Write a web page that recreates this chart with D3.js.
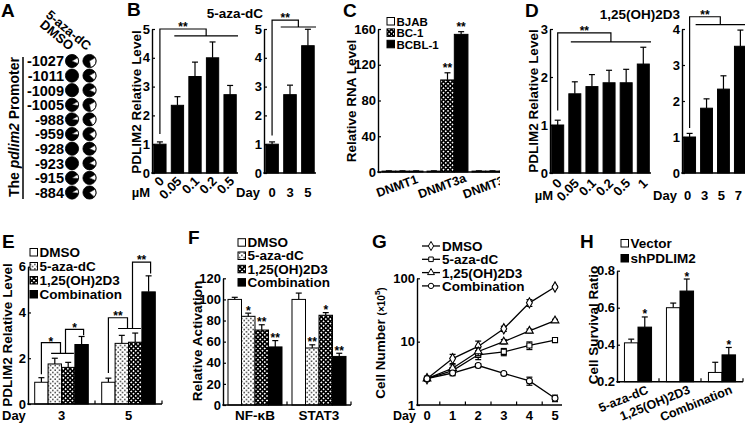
<!DOCTYPE html>
<html><head><meta charset="utf-8">
<script src="https://cdnjs.cloudflare.com/ajax/libs/d3/7.8.5/d3.min.js"></script>
<style>body{margin:0;background:#fff}svg{display:block}</style>
</head><body><svg id="chart" width="745" height="424"></svg>
<script>
// ---------------- DATA ----------------
const promoterSites = ["-1027","-1011","-1009","-1005","-988","-959","-928","-923","-915","-884"];
const promoterColumns = ["DMSO","5-aza-dC"];
const methylDMSO = [0.85,1,1,0.9,0.9,0.9,1,1,0.9,0.9];
const methylAza  = [0.7,0.8,0.85,0.7,0.75,0.8,0.85,0.85,0.85,0.8];

const bDoses = ["0","0.05","0.1","0.2","0.5"];
const bDoseVals = [1.0,2.35,3.35,4.0,2.72];
const bDoseErr  = [0.08,0.3,0.5,0.55,0.32];
const bDays = ["0","3","5"];
const bDayVals = [1.0,2.72,4.42];
const bDayErr  = [0.08,0.33,0.57];
const bTicks = [0,1,2,3,4,5];

const cGenes = ["DNMT1","DNMT3a","DNMT3b"];
const cLines = ["BJAB","BC-1","BCBL-1"];
const cBJAB  = [1,1,1];
const cBC1   = [1,103,1];
const cBCBL1 = [1,154,1];
const cErrBJAB = [0.3,0.3,0.3];
const cErrBC1  = [0.3,8,0.3];
const cErrBCBL1= [0.3,3,0.3];
const cTicks = [0,40,80,120,160];

const dDoses = ["0","0.05","0.1","0.2","0.5","1"];
const dDoseVals = [1.0,1.65,1.8,1.88,1.88,2.27];
const dDoseErr  = [0.1,0.25,0.25,0.26,0.28,0.35];
const dDays = ["0","3","5","7"];
const dDayVals = [1.0,1.8,2.33,3.52];
const dDayErr  = [0.1,0.26,0.37,0.45];

const treatments = ["DMSO","5-aza-dC","1,25(OH)2D3","Combination"];
const eDays = ["3","5"];
const eDay3 = [0.95,1.75,1.6,2.6];
const eDay5 = [0.95,2.65,2.7,4.9];
const eErr3 = [0.2,0.25,0.22,0.35];
const eErr5 = [0.18,0.35,0.4,0.7];
const eTicks = [0,2,4,6];

const fTargets = ["NF-κB","STAT3"];
const fNFkB  = [100,84,71,55];
const fSTAT3 = [100,54,85,46];
const fErrNFkB  = [2,3,5,6];
const fErrSTAT3 = [6,3,2.5,3];
const fStarsNFkB  = ["","*","**","**"];
const fStarsSTAT3 = ["","**","*","**"];
const fTicks = [0,20,40,60,80,100,120];

const gDays = [0,1,2,3,4,5];
const gDMSO = [2.6,5.4,8.4,16,41,73];
const gAza  = [2.6,3.5,6.2,6.9,8.7,10.6];
const gD3   = [2.6,3.8,7.0,10,14.8,21.5];
const gComb = [2.6,3.2,4.2,3.15,2.4,1.28];
const gErrDMSO = [0.1,0.9,1.8,1.5,5,3];
const gErrAza  = [0.1,0.4,1.0,0.9,1.2,0.5];
const gErrD3   = [0.1,0.5,1.0,0.8,1.0,1.0];
const gErrComb = [0.1,0.3,0.3,0.15,0.35,0.15];
const gTicks = [1,10,100];

const hGroups = ["5-aza-dC","1,25(OH)2D3","Combination"];
const hSeries = ["Vector","shPDLIM2"];
const hVector = [0.41,0.6,0.25];
const hSh     = [0.495,0.69,0.345];
const hErrVector = [0.02,0.025,0.055];
const hErrSh     = [0.055,0.065,0.04];
const hTicks = [0.2,0.4,0.6,0.8];

// ---------------- HELPERS ----------------
const FONT = "'Liberation Sans', Arial, Helvetica, sans-serif";
const svg = d3.select("#chart");
const defs = svg.append("defs");
const pd = defs.append("pattern").attr("id","dots").attr("width",4.5).attr("height",4.5).attr("patternUnits","userSpaceOnUse");
pd.append("rect").attr("width",4.5).attr("height",4.5).attr("fill","#fff");
pd.append("rect").attr("x",0.5).attr("y",0.5).attr("width",1.3).attr("height",1.3).attr("fill","#000");
pd.append("rect").attr("x",2.75).attr("y",2.75).attr("width",1.3).attr("height",1.3).attr("fill","#000");
const pc = defs.append("pattern").attr("id","chk").attr("width",3.2).attr("height",3.2).attr("patternUnits","userSpaceOnUse").attr("patternTransform","rotate(45)");
pc.append("rect").attr("width",3.2).attr("height",3.2).attr("fill","#000");
pc.append("rect").attr("x",0.8).attr("y",0.8).attr("width",1.6).attr("height",1.6).attr("fill","#fff");
defs.append("clipPath").attr("id","clipC").append("rect").attr("x",330).attr("y",0).attr("width",170).attr("height",210);

const treatFill = ["#fff","url(#dots)","url(#chk)","#000"];
const cFill = ["#fff","url(#chk)","#000"];
const hFill = ["#fff","#000"];

function txt(x,y,s,size,opt={}){
  const t=(opt.parent||svg).append("text").attr("x",x).attr("y",y).text(s)
    .attr("font-size",size).attr("font-weight","bold").attr("font-family",FONT).attr("fill","#000");
  if(opt.anchor) t.attr("text-anchor",opt.anchor);
  if(opt.rotate!=null) t.attr("transform",`rotate(${opt.rotate},${x},${y})`);
  return t;
}
function yAxis(scale,x,ticks,fmt){
  const g=svg.append("g").attr("transform",`translate(${x},0)`)
    .call(d3.axisLeft(scale).tickValues(ticks).tickSizeInner(-3).tickSizeOuter(0).tickPadding(2).tickFormat(fmt||(d=>d)));
  g.attr("font-family",FONT).attr("font-size",13).attr("font-weight","bold");
  g.select(".domain").attr("stroke","#000").attr("stroke-width",1.4);
  g.selectAll(".tick line").attr("stroke","#000").attr("stroke-width",1.2);
  g.selectAll(".tick text").attr("fill","#000");
  return g;
}
function hAxis(x0,x1,y,ticks,parent){
  const p=parent||svg;
  p.append("line").attr("x1",x0-0.7).attr("x2",x1).attr("y1",y).attr("y2",y).attr("stroke","#000").attr("stroke-width",1.4);
  ticks.forEach(t=>p.append("line").attr("x1",t).attr("x2",t).attr("y1",y).attr("y2",y-3.5).attr("stroke","#000").attr("stroke-width",1.2));
}
function errBar(cx,y0,y1,half,parent){
  const p=parent||svg;
  p.append("line").attr("x1",cx).attr("x2",cx).attr("y1",y0).attr("y2",y1).attr("stroke","#000").attr("stroke-width",1.2);
  p.append("line").attr("x1",cx-half).attr("x2",cx+half).attr("y1",y1).attr("y2",y1).attr("stroke","#000").attr("stroke-width",1.2);
}
function bars(xs,ys,keys,vals,errs,fill,dx=0,parent){
  const p=parent||svg, w=xs.bandwidth(), base=ys(ys.domain()[0]);
  keys.forEach((k,i)=>{
    const x=dx+xs(k), v=vals[i];
    errBar(x+w/2,ys(v),ys(v+errs[i]),3,p);
    p.append("rect").attr("x",x).attr("y",ys(v)).attr("width",w).attr("height",base-ys(v))
      .attr("fill",typeof fill==="function"?fill(i):fill).attr("stroke","#000").attr("stroke-width",1);
  });
}
function path(d){svg.append("path").attr("d",d).attr("fill","none").attr("stroke","#000").attr("stroke-width",1.2);}
function legendBox(x,yc,fill,label,size){
  svg.append("rect").attr("x",x).attr("y",yc-4).attr("width",7.5).attr("height",7.5).attr("fill",fill).attr("stroke","#000").attr("stroke-width",1);
  txt(x+9.5,yc+4.3,label,size);
}
const LET=19, AX=13.5;

// ---------------- PANEL A ----------------
txt(1,17,"A",LET);
const yA=d3.scalePoint().domain(promoterSites).range([61,192.5]);
const xA=d3.scalePoint().domain(promoterColumns).range([72,89.5]);
const RA=6.6;
const arcA=d3.arc().innerRadius(0).outerRadius(RA);
promoterSites.forEach((s,i)=>{
  txt(64,yA(s)+5.3,s,14.5,{anchor:"end"});
  [methylDMSO[i],methylAza[i]].forEach((f,j)=>{
    const g=svg.append("g").attr("transform",`translate(${xA(promoterColumns[j])},${yA(s)})`);
    const off=Math.PI/3, wEnd=off+(1-f)*2*Math.PI;
    g.append("path").attr("d",arcA({startAngle:wEnd,endAngle:off+2*Math.PI})).attr("fill","#000");
    if(f<1) g.append("path").attr("d",arcA({startAngle:off,endAngle:wEnd})).attr("fill","#fff").attr("stroke","#000").attr("stroke-width",0.6);
    g.append("circle").attr("r",RA).attr("fill","none").attr("stroke","#000").attr("stroke-width",0.8);
  });
});
promoterColumns.forEach(c=>txt(xA(c)-3,51,c,13,{anchor:"end",rotate:40}));
svg.append("line").attr("x1",23).attr("x2",23).attr("y1",57).attr("y2",199).attr("stroke","#000").attr("stroke-width",1.5);
{
  const t=txt(19,127,"The ",14,{anchor:"middle",rotate:-90});
  t.append("tspan").attr("font-style","italic").text("pdlim2");
  t.append("tspan").text(" Promoter");
}

// ---------------- PANEL B ----------------
txt(127,16,"B",LET);
const yB=d3.scaleLinear().domain([0,5]).range([173,29]);
const xB1=d3.scaleBand().domain(bDoses).range([152,238]).paddingInner(0.3).paddingOuter(0.1);
const xB2=d3.scaleBand().domain(bDays).range([264,316]).paddingInner(0.3).paddingOuter(0.1);
bars(xB1,yB,bDoses,bDoseVals,bDoseErr,"#000");
bars(xB2,yB,bDays,bDayVals,bDayErr,"#000");
yAxis(yB,152,bTicks); hAxis(152,238,173,[]);
yAxis(yB,264,bTicks); hAxis(264,316,173,[]);
txt(141,102,"PDLIM2 Relative Level",AX,{anchor:"middle",rotate:-90});
bDoses.forEach(d=>txt(xB1(d)+xB1.bandwidth()/2+5,182,d,13,{anchor:"end",rotate:-45}));
txt(141,197,"µM",13,{anchor:"middle"});
txt(248,197,"Day",13,{anchor:"middle"});
bDays.forEach(d=>txt(xB2(d)+xB2.bandwidth()/2,197,d,13,{anchor:"middle"}));
txt(235,18,"5-aza-dC",13.5,{anchor:"middle"});
{
  const c0=xB1("0")+xB1.bandwidth()/2, gx0=xB1("0.05")+3, gx1=238, gm=(gx0+gx1)/2;
  path(`M${c0},${yB(1.35)}V${yB(5)}H${gm}V${yB(4.76)}M${gx0},${yB(4.76)}H${gx1}`);
  txt((c0+gm)/2,yB(5)+2,"**",12,{anchor:"middle"});
  const d0=xB2("0")+xB2.bandwidth()/2, hx0=xB2("3")-3, hx1=316, hm=(hx0+hx1)/2;
  path(`M${d0},${yB(1.3)}V${yB(5.31)}H${hm}V${yB(5.07)}M${hx0},${yB(5.07)}H${hx1}`);
  txt((d0+hm)/2,yB(5.31)+2,"**",12,{anchor:"middle"});
}

// ---------------- PANEL C ----------------
txt(343,17,"C",LET);
const yC=d3.scaleLinear().domain([0,160]).range([172,29]);
const xC=d3.scaleBand().domain(cGenes).range([380,515]);
const xCi=d3.scaleBand().domain(cLines).range([0,xC.bandwidth()]).paddingOuter(0.15);
const gC=svg.append("g").attr("clip-path","url(#clipC)");
const cVals=[cBJAB,cBC1,cBCBL1], cErrs=[cErrBJAB,cErrBC1,cErrBCBL1];
cGenes.forEach((gn,gi)=>{
  bars(xCi,yC,cLines,cLines.map((l,li)=>cVals[li][gi]),cLines.map((l,li)=>cErrs[li][gi]),i=>cFill[i],xC(gn),gC);
  txt(xC(gn)+xC.bandwidth()/2-4,190,gn,12.5,{anchor:"middle",rotate:-20,parent:gC});
});
["BC-1","BCBL-1"].forEach(l=>{
  const li=cLines.indexOf(l), gi=1;
  txt(xC("DNMT3a")+xCi(l)+xCi.bandwidth()/2,yC(cVals[li][gi]+cErrs[li][gi])-1,"**",12,{anchor:"middle"});
});
yAxis(yC,378,cTicks); hAxis(378,500,172,[],gC);
txt(356,101,"Relative RNA Level",AX,{anchor:"middle",rotate:-90});
cLines.forEach((l,i)=>legendBox(387,21.5+i*11.4,cFill[i],l,11.5));

// ---------------- PANEL D ----------------
txt(525,17,"D",LET);
const yD1=d3.scaleLinear().domain([0,3]).range([173,29]);
const yD2=d3.scaleLinear().domain([0,4]).range([173,29]);
const xD1=d3.scaleBand().domain(dDoses).range([550,651]).paddingInner(0.3).paddingOuter(0.1);
const xD2=d3.scaleBand().domain(dDays).range([682,748]).paddingInner(0.3).paddingOuter(0.1);
bars(xD1,yD1,dDoses,dDoseVals,dDoseErr,"#000");
bars(xD2,yD2,dDays,dDayVals,dDayErr,"#000");
yAxis(yD1,550,[0,1,2,3]); hAxis(550,651,173,[]);
yAxis(yD2,682,[0,1,2,3,4]); hAxis(682,745,173,[]);
txt(537.5,101,"PDLIM2 Relative Level",AX,{anchor:"middle",rotate:-90});
dDoses.forEach(d=>txt(xD1(d)+xD1.bandwidth()/2+5,184,d,13,{anchor:"end",rotate:-45}));
txt(544,200,"µM",13,{anchor:"middle"});
txt(665,200,"Day",13,{anchor:"middle"});
dDays.forEach(d=>txt(xD2(d)+xD2.bandwidth()/2-2,200,d,13,{anchor:"middle"}));
txt(640,19,"1,25(OH)2D3",13.5,{anchor:"middle"});
{
  const c0=xD1("0")+xD1.bandwidth()/2, gx0=xD1("0.05")+2, gx1=651, gm=(gx0+gx1)/2;
  path(`M${c0},${yD1(1.3)}V${yD1(2.92)}H${gm}V${yD1(2.73)}M${gx0},${yD1(2.73)}H${gx1}`);
  txt((c0+gm)/2,yD1(2.92)+2,"**",12,{anchor:"middle"});
  const d0=xD2("0")+xD2.bandwidth()/2, hx0=xD2("3")-5, hx1=745, hm=(hx0+hx1)/2;
  path(`M${d0},${yD2(1.25)}V${yD2(4.34)}H${hm}V${yD2(4.12)}M${hx0},${yD2(4.12)}H${hx1}`);
  txt((d0+hm)/2,yD2(4.34)+2,"**",12,{anchor:"middle"});
}

// ---------------- PANEL E ----------------
txt(2,248,"E",LET);
const yE=d3.scaleLinear().domain([0,6]).range([404,266.7]);
const xE=d3.scaleBand().domain(eDays).range([28,162]);
const xEi=d3.scaleBand().domain(treatments).range([0,xE.bandwidth()]).paddingOuter(0.5);
const eVals=[eDay3,eDay5], eErrs=[eErr3,eErr5];
eDays.forEach((d,di)=>bars(xEi,yE,treatments,eVals[di],eErrs[di],i=>treatFill[i],xE(d)));
yAxis(yE,28,eTicks); hAxis(28,162,404,[xE("5"),162]);
txt(11.5,335,"PDLIM2 Relative Level",AX,{anchor:"middle",rotate:-90});
txt(2,419.5,"Day",13);
eDays.forEach(d=>txt(xE(d)+xE.bandwidth()/2,419.5,d,13,{anchor:"middle"}));
treatments.forEach((t,i)=>legendBox(30,252.5+i*14,treatFill[i],t,13.5));
{
  const bw=xEi.bandwidth(), cx=(d,t)=>xE(d)+xEi(t)+bw/2;
  let gx0=xE("3")+xEi("5-aza-dC")+3, gx1=xE("3")+xEi("1,25(OH)2D3")+bw-1, gm=(gx0+gx1)/2;
  path(`M${cx("3","DMSO")},${yE(1.3)}V${yE(2.68)}H${gm-2}V${yE(2.21)}M${gx0},${yE(2.21)}H${gx1}`);
  txt((cx("3","DMSO")+gm-2)/2,yE(2.68)+3,"*",12,{anchor:"middle"});
  path(`M${gm+3},${yE(2.21)}V${yE(3.26)}H${cx("3","Combination")+2}V${yE(3.0)}`);
  txt((gm+3+cx("3","Combination")+2)/2,yE(3.26)+3,"*",12,{anchor:"middle"});
  gx0=xE("5")+xEi("5-aza-dC")+3; gx1=xE("5")+xEi("1,25(OH)2D3")+bw-1; gm=(gx0+gx1)/2;
  path(`M${cx("5","DMSO")},${yE(1.35)}V${yE(3.77)}H${gm-2}V${yE(3.3)}M${gx0},${yE(3.3)}H${gx1}`);
  txt((cx("5","DMSO")+gm-2)/2,yE(3.77)+2,"**",12,{anchor:"middle"});
  path(`M${gm+3},${yE(3.3)}V${yE(6.2)}H${cx("5","Combination")+2}V${yE(5.7)}`);
  txt((gm+3+cx("5","Combination")+2)/2,yE(6.2)+2,"**",12,{anchor:"middle"});
}

// ---------------- PANEL F ----------------
txt(188,244,"F",LET);
const yF=d3.scaleLinear().domain([0,120]).range([405,278.3]);
const xF=d3.scaleBand().domain(fTargets).range([223,351]);
const xFi=d3.scaleBand().domain(treatments).range([0,xF.bandwidth()]).paddingOuter(0.37);
const fVals=[fNFkB,fSTAT3], fErrs=[fErrNFkB,fErrSTAT3], fStars=[fStarsNFkB,fStarsSTAT3];
fTargets.forEach((t,ti)=>{
  bars(xFi,yF,treatments,fVals[ti],fErrs[ti],i=>treatFill[i],xF(t));
  treatments.forEach((tr,i)=>{ if(fStars[ti][i]) txt(xF(t)+xFi(tr)+xFi.bandwidth()/2,yF(fVals[ti][i]+fErrs[ti][i])+1.5,fStars[ti][i],12,{anchor:"middle"}); });
  txt(xF(t)+xF.bandwidth()/2,419.5,t,13.5,{anchor:"middle"});
});
yAxis(yF,223,fTicks); hAxis(223,351,405,[xF("STAT3"),351]);
txt(201.5,341,"Relative Activation",AX,{anchor:"middle",rotate:-90});
treatments.forEach((t,i)=>legendBox(238,242.7+i*13.3,treatFill[i],t,13.5));

// ---------------- PANEL G ----------------
txt(372,248,"G",LET);
const yG=d3.scaleLog().domain([1,100]).range([405,278.3]);
const xG=d3.scaleLinear().domain([0,5]).range([427,555]);
const gSeries=[gDMSO,gAza,gD3,gComb], gErrs=[gErrDMSO,gErrAza,gErrD3,gErrComb];
const gSym=[d3.symbolDiamond,d3.symbolSquare,d3.symbolTriangle,d3.symbolCircle];
const gSize=[30,26,26,28];
const line=d3.line().x((d,i)=>xG(gDays[i])).y(d=>yG(d));
gSeries.forEach(s=>{
  svg.append("path").attr("d",line(s)).attr("fill","none").attr("stroke","#000").attr("stroke-width",1.3);
});
gSeries.forEach((s,si)=>{
  s.forEach((v,i)=>{
    const x=xG(gDays[i]), e=gErrs[si][i];
    if(e>0.12){
      svg.append("line").attr("x1",x).attr("x2",x).attr("y1",yG(v+e)).attr("y2",yG(Math.max(v-e,1.01))).attr("stroke","#000").attr("stroke-width",1.2);
      [v+e,v-e].forEach(q=>svg.append("line").attr("x1",x-3).attr("x2",x+3).attr("y1",yG(q)).attr("y2",yG(q)).attr("stroke","#000").attr("stroke-width",1.2));
    }
    svg.append("path").attr("d",d3.symbol(gSym[si],gSize[si])()).attr("transform",`translate(${x},${yG(v)})`)
      .attr("fill","#fff").attr("stroke","#000").attr("stroke-width",1.1);
  });
});
yAxis(yG,417,gTicks); hAxis(417,562,405,[0.5,1.5,2.5,3.5,4.5].map(xG));
{
  const t=txt(384.5,343,"Cell Number ",AX,{anchor:"middle",rotate:-90});
  t.append("tspan").attr("font-size",10).text("(×10");
  t.append("tspan").attr("font-size",8).attr("dy",-5).text("5");
  t.append("tspan").attr("font-size",10).attr("dy",5).text(")");
}
txt(393,419.5,"Day",12.5);
gDays.forEach(d=>txt(xG(d),419.5,String(d),13,{anchor:"middle"}));
treatments.forEach((t,i)=>{
  const yc=246+i*13.3;
  svg.append("line").attr("x1",422).attr("x2",440).attr("y1",yc).attr("y2",yc).attr("stroke","#000").attr("stroke-width",1.3);
  svg.append("path").attr("d",d3.symbol(gSym[i],gSize[i]*0.8)()).attr("transform",`translate(431,${yc})`).attr("fill","#fff").attr("stroke","#000").attr("stroke-width",1);
  txt(442,yc+5,t,13.5);
});

// ---------------- PANEL H ----------------
txt(580,248,"H",LET);
const yH=d3.scaleLinear().domain([0.2,0.8]).range([381.7,270.7]);
const xH=d3.scaleBand().domain(hGroups).range([617,743]);
const xHi=d3.scaleBand().domain(hSeries).range([0,xH.bandwidth()]).paddingOuter(0.55);
const hVals=[hVector,hSh], hErrs=[hErrVector,hErrSh];
hGroups.forEach((g,gi)=>{
  bars(xHi,yH,hSeries,hSeries.map((s,si)=>hVals[si][gi]),hSeries.map((s,si)=>hErrs[si][gi]),i=>hFill[i],xH(g));
  txt(xH(g)+xHi("shPDLIM2")+xHi.bandwidth()/2,yH(hSh[gi]+hErrSh[gi])+1.5,"*",12,{anchor:"middle"});
  txt(xH(g)+xH.bandwidth()/2+11,393,g,12.5,{anchor:"end",rotate:-22});
});
yAxis(yH,617,hTicks,d3.format(".1f")); hAxis(617,743,381.7,[xH("1,25(OH)2D3"),xH("Combination"),743]);
txt(597.5,325,"Cell Survival Ratio",AX,{anchor:"middle",rotate:-90});
hSeries.forEach((s,i)=>legendBox(621,243.5+i*15,hFill[i],s,13.5));
</script></body></html>
